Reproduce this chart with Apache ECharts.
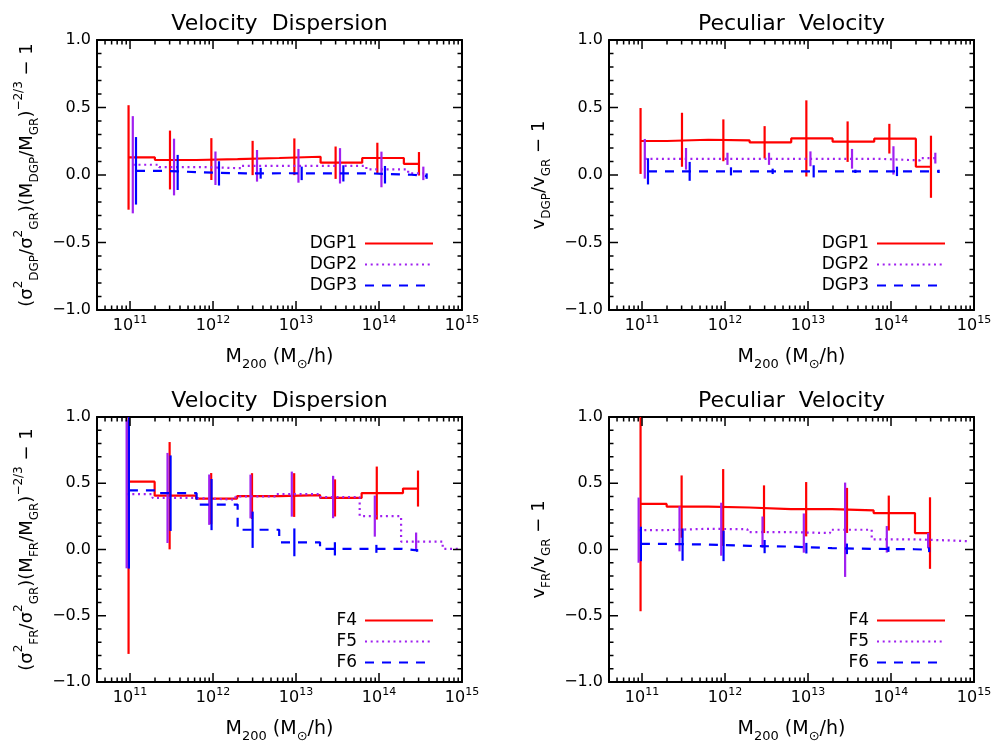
<!DOCTYPE html>
<html><head><meta charset="utf-8">
<script src="https://cdn.jsdelivr.net/npm/echarts@6/dist/echarts.min.js"></script>
<style>html,body{margin:0;padding:0;background:#fff}#c{width:995px;height:744px}</style>
</head><body><div id="c"></div>
<script>
// ---- Data ----
const massDGP1 = [9.6e10, 3.03e11, 9.55e11, 3.0e12, 9.55e12, 3.0e13, 9.55e13, 3.03e14];
const massDGP2 = [1.08e11, 3.39e11, 1.07e12, 3.39e12, 1.07e13, 3.39e13, 1.07e14, 3.42e14];
const massDGP3 = [1.18e11, 3.75e11, 1.18e12, 3.75e12, 1.17e13, 3.72e13, 1.18e14, 3.75e14];
const massF4 = [9.6e10, 3.0e11, 9.5e11, 2.95e12, 9.5e12, 2.95e13, 9.4e13, 2.95e14];
const massF5 = [9.1e10, 2.83e11, 9.0e11, 2.83e12, 8.9e12, 2.8e13, 8.9e13, 2.8e14, 8.9e14];
const massF6 = [9.7e10, 3.08e11, 9.6e11, 3.0e12, 9.55e12, 2.94e13, 9.3e13, 2.88e14];

const dispDGP1 = [0.130, 0.111, 0.118, 0.126, 0.135, 0.091, 0.126, 0.083];
const dispErrDGP1 = [0.387, 0.218, 0.155, 0.127, 0.136, 0.120, 0.113, 0.087];
const dispDGP2 = [0.076, 0.059, 0.050, 0.068, 0.068, 0.068, 0.041, 0.012];
const dispErrDGP2 = [0.360, 0.210, 0.124, 0.117, 0.125, 0.131, 0.132, 0.050];
const dispDGP3 = [0.031, 0.019, 0.012, 0.013, 0.012, 0.012, 0.002, -0.008];
const dispErrDGP3 = [0.250, 0.130, 0.090, 0.040, 0.050, 0.060, 0.065, 0.020];

const pecDGP1 = [0.252, 0.261, 0.257, 0.242, 0.271, 0.247, 0.269, 0.061];
const pecErrDGP1 = [0.244, 0.200, 0.155, 0.120, 0.282, 0.150, 0.110, 0.230];
const pecDGP2 = [0.120, 0.120, 0.120, 0.120, 0.120, 0.120, 0.108, 0.125];
const pecErrDGP2 = [0.147, 0.080, 0.045, 0.045, 0.055, 0.073, 0.105, 0.040];
const pecDGP3 = [0.027, 0.027, 0.027, 0.027, 0.027, 0.027, 0.027, 0.027];
const pecErrDGP3 = [0.097, 0.070, 0.030, 0.020, 0.045, 0.012, 0.035, 0.012];

const dispF4 = [0.512, 0.406, 0.384, 0.403, 0.411, 0.389, 0.426, 0.460];
const dispErrF4 = [1.300, 0.405, 0.193, 0.173, 0.165, 0.140, 0.200, 0.136];
const dispF5 = [0.418, 0.389, 0.376, 0.400, 0.418, 0.396, 0.252, 0.060, 0.005];
const dispErrF5 = [0.560, 0.340, 0.190, 0.165, 0.170, 0.160, 0.155, 0.068, 0];
const dispF6 = [0.446, 0.425, 0.339, 0.149, 0.054, 0.005, 0.005, -0.007];
const dispErrF6 = [0.590, 0.285, 0.193, 0.137, 0.105, 0.050, 0.030, 0.010];

const pecF4 = [0.344, 0.324, 0.317, 0.304, 0.304, 0.295, 0.275, 0.124];
const pecErrF4 = [0.810, 0.235, 0.290, 0.180, 0.205, 0.170, 0.132, 0.270];
const pecF5 = [0.146, 0.156, 0.153, 0.131, 0.124, 0.149, 0.077, 0.067, 0.062];
const pecErrF5 = [0.246, 0.170, 0.200, 0.118, 0.148, 0.356, 0.100, 0.058, 0];
const pecF6 = [0.042, 0.037, 0.027, 0.022, 0.010, 0.005, 0.002, -0.002];
const pecErrF6 = [0.130, 0.122, 0.115, 0.050, 0.040, 0.040, 0.020, 0.018];

const namesDGP = ['DGP1', 'DGP2', 'DGP3'];
const namesFR = ['F4', 'F5', 'F6'];
const panelTitles = ['Velocity  Dispersion', 'Peculiar  Velocity', 'Velocity  Dispersion', 'Peculiar  Velocity'];
const yTitles = [
  '(σ{sup|2}{sub|DGP}/σ{sup|2}{sub|GR})(M{sub|DGP}/M{sub|GR}){sup|−2/3} − 1',
  'v{sub|DGP}/v{sub|GR} − 1',
  '(σ{sup|2}{sub|FR}/σ{sup|2}{sub|GR})(M{sub|FR}/M{sub|GR}){sup|−2/3} − 1',
  'v{sub|FR}/v{sub|GR} − 1'
];
const xTitle = 'M{sub|200} (M{sub|⊙}/h)';
const xMin = 4e10, xMax = 1e15;
const xMajorTicks = [1e11, 1e12, 1e13, 1e14];
const minorMultipliers = [2, 3, 4, 5, 6, 7, 8, 9];
const yMajorTicks = [-0.5, 0, 0.5];
const yMinorStep = 0.1;

// ---- Styles / layout ----
const FONT = 'DejaVu Sans';
const COLORS = ['#ff0000', '#a020f0', '#0000ff'];
const DASHES = ['solid', [2, 3.7], [9, 8]];
const LINE_W = 2.2;
const MAJOR_LEN = 9, MINOR_LEN = 4.5;
const grids = [
  {left: 97, top: 40, width: 365, height: 270},
  {left: 609, top: 40, width: 365, height: 270},
  {left: 97, top: 417, width: 365, height: 270},
  {left: 609, top: 417, width: 365, height: 270}
];
const panels = [
  {names: namesDGP, masses: [massDGP1, massDGP2, massDGP3], vals: [dispDGP1, dispDGP2, dispDGP3], errs: [dispErrDGP1, dispErrDGP2, dispErrDGP3]},
  {names: namesDGP, masses: [massDGP1, massDGP2, massDGP3], vals: [pecDGP1, pecDGP2, pecDGP3], errs: [pecErrDGP1, pecErrDGP2, pecErrDGP3]},
  {names: namesFR, masses: [massF4, massF5, massF6], vals: [dispF4, dispF5, dispF6], errs: [dispErrF4, dispErrF5, dispErrF6]},
  {names: namesFR, masses: [massF4, massF5, massF6], vals: [pecF4, pecF5, pecF6], errs: [pecErrF4, pecErrF5, pecErrF6]}
];

function stepPoints(xs, ys) {
  const pts = [], n = xs.length;
  for (let i = 0; i < n; i++) {
    const a = i === 0 ? xs[0] : (xs[i - 1] + xs[i]) / 2;
    const b = i === n - 1 ? xs[n - 1] : (xs[i] + xs[i + 1]) / 2;
    pts.push([a, ys[i]], [b, ys[i]]);
  }
  return pts;
}
function errRows(xs, ys, es) {
  return xs.map((x, i) => [x, ys[i] - es[i], ys[i] + es[i]]);
}
// tick rows: [x, y, isMajor]
const xTickRows = xMajorTicks.map(v => [v, 0, 1]);
for (let e = 10; e < 15; e++) {
  minorMultipliers.forEach(m => { const v = m * Math.pow(10, e); if (v > xMin && v < xMax) xTickRows.push([v, 0, 0]); });
}
const yTickRows = yMajorTicks.map(v => [xMin, v, 1]);
for (let k = -9; k <= 9; k++) {
  if (k % 5 !== 0) yTickRows.push([xMin, k * yMinorStep, 0]);
}

const xAxes = [], yAxes = [], series = [], titles = [], legends = [];
const subStyle = (fs) => ({fontSize: fs, lineHeight: fs, verticalAlign: 'bottom', fontFamily: FONT, color: '#000'});
const supStyle = (fs) => ({fontSize: fs, lineHeight: fs, verticalAlign: 'top', fontFamily: FONT, color: '#000'});

function xAxisDef(i, pos) {
  const bottom = pos === 'bottom';
  return {
    type: 'log', logBase: 10, gridIndex: i, position: pos, min: xMin, max: xMax,
    axisLine: {show: true, onZero: false, lineStyle: {color: '#000', width: 2}},
    axisTick: {show: false},
    splitLine: {show: false},
    axisLabel: bottom ? {
      show: true, margin: 5, showMinLabel: false, showMaxLabel: true, hideOverlap: false,
      fontFamily: FONT, fontSize: 16, color: '#000', lineHeight: 22,
      formatter: v => { const e = Math.log10(v); if (Math.abs(e - Math.round(e)) > 1e-6) return ''; return '10{sup|' + Math.round(e) + '}'; },
      rich: {sup: supStyle(11)}
    } : {show: false},
    name: bottom ? xTitle : '', nameLocation: 'middle', nameGap: 33,
    nameTextStyle: {fontFamily: FONT, fontSize: 19, color: '#000', lineHeight: 28, rich: {sub: subStyle(13)}}
  };
}
function yAxisDef(i, pos) {
  const left = pos === 'left';
  return {
    type: 'value', gridIndex: i, position: pos, min: -1, max: 1, interval: 0.5,
    axisLine: {show: true, onZero: false, lineStyle: {color: '#000', width: 2}},
    axisTick: {show: false},
    minorTick: {show: false},
    splitLine: {show: false},
    axisLabel: left ? {
      show: true, margin: 6, fontFamily: FONT, fontSize: 16, color: '#000',
      formatter: v => (v < 0 ? '\u2212' : '') + Math.abs(v).toFixed(1)
    } : {show: false},
    name: left ? yTitles[i] : '', nameLocation: 'middle', nameRotate: 90, nameGap: 56,
    nameTextStyle: {fontFamily: FONT, fontSize: 18, color: '#000', lineHeight: 28, rich: {sub: subStyle(12), sup: supStyle(12)}}
  };
}

for (let i = 0; i < 4; i++) { xAxes.push(xAxisDef(i, 'bottom')); yAxes.push(yAxisDef(i, 'left')); }
for (let i = 0; i < 4; i++) { xAxes.push(xAxisDef(i, 'top')); yAxes.push(yAxisDef(i, 'right')); }

const tickStyle = {stroke: '#000', lineWidth: 1.5};

panels.forEach((p, i) => {
  for (let k = 0; k < 3; k++) {
    series.push({
      type: 'line', name: p.names[k], xAxisIndex: i, yAxisIndex: i,
      data: stepPoints(p.masses[k], p.vals[k]), showSymbol: false, symbol: 'none',
      lineStyle: {color: COLORS[k], width: LINE_W, type: DASHES[k]}, itemStyle: {color: COLORS[k]},
      z: 3 + k, silent: true
    });
    series.push({
      type: 'custom', name: 'err' + i + k, xAxisIndex: i, yAxisIndex: i,
      data: errRows(p.masses[k], p.vals[k], p.errs[k]), encode: {x: 0, y: [1, 2]},
      z: 3 + k, silent: true,
      renderItem: (params, api) => {
        const x = api.value(0);
        const lo = Math.max(-1, api.value(1)), hi = Math.min(1, api.value(2));
        if (hi - lo <= 0) return null;
        const a = api.coord([x, lo]), b = api.coord([x, hi]);
        return {type: 'line', shape: {x1: a[0], y1: a[1], x2: b[0], y2: b[1]}, style: {stroke: COLORS[k], lineWidth: LINE_W}};
      }
    });
  }
  // x ticks (bottom and top, pointing inward)
  series.push({
    type: 'custom', name: 'xticks' + i, xAxisIndex: i, yAxisIndex: i, silent: true,
    data: xTickRows, encode: {x: 0, y: 1}, z: 10,
    renderItem: (params, api) => {
      const x = api.value(0), len = api.value(2) ? MAJOR_LEN : MINOR_LEN;
      const pb = api.coord([x, -1]), pt = api.coord([x, 1]);
      return {type: 'group', children: [
        {type: 'line', shape: {x1: pb[0], y1: pb[1], x2: pb[0], y2: pb[1] - len}, style: tickStyle},
        {type: 'line', shape: {x1: pt[0], y1: pt[1], x2: pt[0], y2: pt[1] + len}, style: tickStyle}
      ]};
    }
  });
  // y ticks (left and right, pointing inward)
  series.push({
    type: 'custom', name: 'yticks' + i, xAxisIndex: i, yAxisIndex: i, silent: true,
    data: yTickRows, encode: {x: 0, y: 1}, z: 10,
    renderItem: (params, api) => {
      const y = api.value(1), len = api.value(2) ? MAJOR_LEN : MINOR_LEN;
      const pl = api.coord([xMin, y]), pr = api.coord([xMax, y]);
      return {type: 'group', children: [
        {type: 'line', shape: {x1: pl[0], y1: pl[1], x2: pl[0] + len, y2: pl[1]}, style: tickStyle},
        {type: 'line', shape: {x1: pr[0], y1: pr[1], x2: pr[0] - len, y2: pr[1]}, style: tickStyle}
      ]};
    }
  });
  const g = grids[i];
  titles.push({
    text: panelTitles[i], left: g.left + g.width / 2, top: g.top - 27, textAlign: 'center', padding: 0,
    textStyle: {fontFamily: FONT, fontSize: 22, fontWeight: 'normal', color: '#000'}
  });
  legends.push({
    data: p.names, orient: 'vertical', align: 'right', selectedMode: false,
    right: 995 - (g.left + g.width) + 28, top: g.top + 195, padding: 0,
    itemWidth: 68, itemHeight: 14, itemGap: 4,
    itemStyle: {opacity: 0},
    textStyle: {fontFamily: FONT, fontSize: 17, color: '#000', lineHeight: 14, padding: [0, 3, 0, 0]}
  });
});

const chart = echarts.init(document.getElementById('c'), null, {renderer: 'canvas'});
chart.setOption({
  animation: false,
  backgroundColor: '#fff',
  title: titles,
  legend: legends,
  grid: grids,
  xAxis: xAxes,
  yAxis: yAxes,
  series: series
});
</script>
</body></html>
